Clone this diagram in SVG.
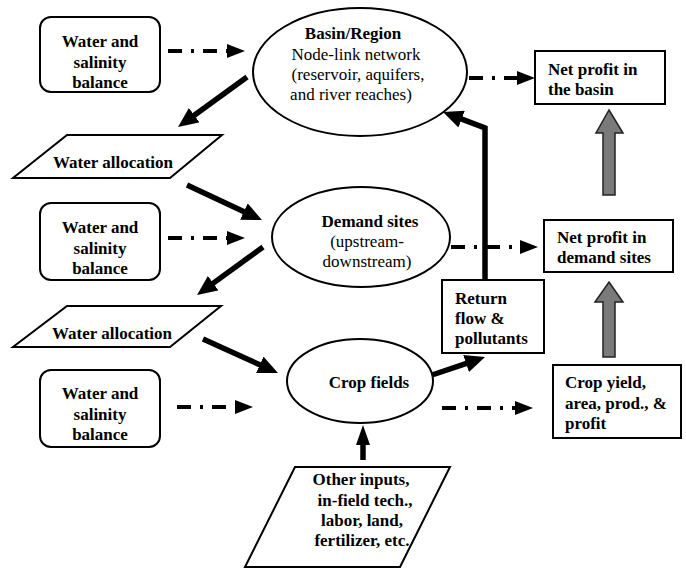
<svg xmlns="http://www.w3.org/2000/svg" width="686" height="569" viewBox="0 0 686 569">
<style>
.shape{fill:#fff;stroke:#000;stroke-width:2}
text{font-family:"Liberation Serif","Times New Roman",serif;font-size:17px;fill:#000}
.b{font-weight:bold}
.c{text-anchor:middle}
.thick{fill:none;stroke:#000;stroke-width:5.5}
.dd{fill:none;stroke:#000;stroke-width:4;stroke-dasharray:14 9 3 9}
.block{fill:#7a7a7a;stroke:#222;stroke-width:1.5}
</style>
<defs>
<marker id="ah" viewBox="0 0 20 18" markerWidth="20" markerHeight="18" refX="2" refY="9" orient="auto" markerUnits="userSpaceOnUse"><path d="M0,0 L20,9 L0,18 z" fill="#000"/></marker>
<marker id="ahn" viewBox="0 0 20 14" markerWidth="20" markerHeight="14" refX="2" refY="7" orient="auto" markerUnits="userSpaceOnUse"><path d="M0,0 L20,7 L0,14 z" fill="#000"/></marker>
<marker id="dh" viewBox="0 0 18 14" markerWidth="18" markerHeight="14" refX="0" refY="7" orient="auto" markerUnits="userSpaceOnUse"><path d="M0,0 L18,7 L0,14 z" fill="#000"/></marker>
</defs>

<g id="connectors">
<path class="thick" d="M247,77 L192.6,116.4" marker-end="url(#ah)"/>
<path class="thick" d="M187,185 L245.7,212.4" marker-end="url(#ah)"/>
<path class="thick" d="M263,247 L211.6,284.4" marker-end="url(#ah)"/>
<path class="thick" d="M203,339 L261.6,365.6" marker-end="url(#ah)"/>
<path class="thick" d="M432,375 L468,362.8" marker-end="url(#ah)"/>
<path class="thick" d="M485,281 L485,128 L459.8,118.4" marker-end="url(#ah)"/>
<path class="thick" d="M363,460 L363,443" marker-end="url(#ahn)"/>
<path class="dd" d="M168,51 L227,51" marker-end="url(#dh)"/>
<path class="dd" d="M168,238 L227,238" marker-end="url(#dh)"/>
<path class="dd" d="M177,407 L235,407" marker-end="url(#dh)"/>
<path class="dd" d="M469,78 L517,78" marker-end="url(#dh)"/>
<path class="dd" d="M451,247 L520,247" marker-end="url(#dh)"/>
<path class="dd" d="M442,408 L515,408" marker-end="url(#dh)"/>
<polygon class="block" points="609,110 623,133 615,133 615,195 603,195 603,133 596,133"/>
<polygon class="block" points="609,282 623,302 615,302 615,357 603,357 603,302 595,302"/>
</g>

<g id="wsb1">
<rect class="shape" x="40" y="17" width="120" height="75" rx="11"/>
<text class="b c" x="100" y="47">Water and</text>
<text class="b c" x="100" y="68">salinity</text>
<text class="b c" x="100" y="88">balance</text>
</g>
<g id="wsb2">
<rect class="shape" x="40" y="203" width="120" height="77" rx="11"/>
<text class="b c" x="100" y="233">Water and</text>
<text class="b c" x="100" y="254">salinity</text>
<text class="b c" x="100" y="274">balance</text>
</g>
<g id="wsb3">
<rect class="shape" x="40" y="370" width="120" height="77" rx="11"/>
<text class="b c" x="100" y="399">Water and</text>
<text class="b c" x="100" y="420">salinity</text>
<text class="b c" x="100" y="440">balance</text>
</g>

<g id="basin">
<ellipse class="shape" cx="360" cy="72" rx="107" ry="64"/>
<text class="b c" x="353" y="39">Basin/Region</text>
<text class="c" x="356" y="60">Node-link network</text>
<text class="c" x="358" y="80">(reservoir, aquifers,</text>
<text class="c" x="351" y="100">and river reaches)</text>
</g>
<g id="wa1">
<polygon class="shape" points="67,135 222,135 170,178 13,178"/>
<text class="b c" x="113" y="168">Water allocation</text>
</g>
<g id="demand">
<ellipse class="shape" cx="361" cy="237" rx="89" ry="50"/>
<text class="b c" x="370" y="227">Demand sites</text>
<text class="c" x="367" y="247">(upstream-</text>
<text class="c" x="367" y="267">downstream)</text>
</g>
<g id="wa2">
<polygon class="shape" points="67,306 221,306 170,347 13,347"/>
<text class="b c" x="112" y="339">Water allocation</text>
</g>
<g id="crop">
<ellipse class="shape" cx="360" cy="381" rx="73" ry="42"/>
<text class="b c" x="369" y="388">Crop fields</text>
</g>
<g id="other">
<polygon class="shape" points="295,467 450,467 400,567 245,567"/>
<text class="b c" x="361" y="485">Other inputs,</text>
<text class="b c" x="365" y="506">in-field tech.,</text>
<text class="b c" x="362" y="526">labor, land,</text>
<text class="b c" x="362" y="546">fertilizer, etc.</text>
</g>
<g id="return">
<rect class="shape" x="442" y="280" width="102" height="73"/>
<text class="b" x="455" y="304">Return</text>
<text class="b" x="455" y="324">flow &amp;</text>
<text class="b" x="455" y="344">pollutants</text>
</g>
<g id="npbasin">
<rect class="shape" x="535" y="51" width="130" height="53"/>
<text class="b" x="548" y="75">Net profit in</text>
<text class="b" x="548" y="95">the basin</text>
</g>
<g id="npdemand">
<rect class="shape" x="544" y="220" width="129" height="52"/>
<text class="b" x="557" y="243">Net profit in</text>
<text class="b" x="557" y="263">demand sites</text>
</g>
<g id="cropyield">
<rect class="shape" x="553" y="365" width="128" height="73"/>
<text class="b" x="565" y="388">Crop yield,</text>
<text class="b" x="565" y="409">area, prod., &amp;</text>
<text class="b" x="565" y="429">profit</text>
</g>
</svg>
